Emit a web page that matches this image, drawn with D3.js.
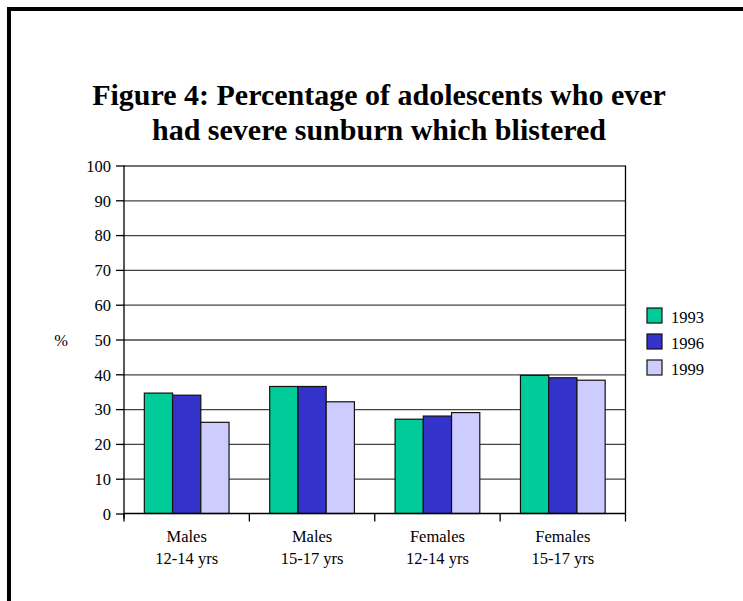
<!DOCTYPE html>
<html>
<head>
<meta charset="utf-8">
<script src="https://cdn.jsdelivr.net/npm/d3@7"></script>
<style>
  html, body { margin: 0; padding: 0; background: #fff; }
  svg { display: block; }
  svg text { font-family: "Liberation Serif", "Times New Roman", serif; fill: #000; }
</style>
</head>
<body>
<svg id="chart" width="743" height="601"></svg>
<script>
// Survey data: share of adolescents reporting a blistering sunburn
const categories = [["Males", "12-14 yrs"], ["Males", "15-17 yrs"], ["Females", "12-14 yrs"], ["Females", "15-17 yrs"]];
const years = ["1993", "1996", "1999"];
const values1993 = [34.6, 36.5, 27.1, 39.7];
const values1996 = [34.0, 36.5, 28.0, 39.0];
const values1999 = [26.2, 32.1, 29.0, 38.3];
const yTicks = [0, 10, 20, 30, 40, 50, 60, 70, 80, 90, 100];
const colors = ["#00CC99", "#3333CC", "#CCCCFF"];
const titleLines = ["Figure 4: Percentage of adolescents who ever", "had severe sunburn which blistered"];

const series = [values1993, values1996, values1999];
const rows = categories.map((c, i) => ({
  key: c.join(" "),
  label: c,
  vals: years.map((yr, j) => ({ year: yr, value: series[j][i], color: colors[j] }))
}));

const smallFont = 16.5;
const svg = d3.select("#chart");

// Outer frame (runs off the right and bottom edges)
svg.append("rect")
  .attr("x", 9).attr("y", 9)
  .attr("width", 760).attr("height", 620)
  .attr("fill", "none").attr("stroke", "#000").attr("stroke-width", 4);

// Title
svg.append("g").selectAll("text")
  .data(titleLines).join("text")
  .attr("x", 379).attr("y", (d, i) => 105 + i * 35)
  .attr("text-anchor", "middle")
  .style("font-size", "30px").style("font-weight", "bold")
  .text(d => d);

const plotLeft = 124, plotRight = 625.5, plotTop = 165.5, plotBottom = 513.5;

const y = d3.scaleLinear().domain([0, 100]).range([plotBottom, plotTop]);
const x0 = d3.scaleBand().domain(rows.map(r => r.key)).range([plotLeft, plotRight]).padding(0);
const x1 = d3.scaleBand().domain(years).range([0, x0.bandwidth()]).paddingInner(0).paddingOuter(0.72);

// Horizontal gridlines
svg.append("g")
  .attr("transform", `translate(${plotLeft},0)`)
  .call(d3.axisLeft(y).tickValues(yTicks.slice(1)).tickSize(-(plotRight - plotLeft)).tickFormat(""))
  .call(g => g.select(".domain").remove())
  .call(g => g.selectAll("line").attr("stroke", "#444").attr("stroke-width", 1.3));

// Right border of plot
svg.append("line")
  .attr("x1", plotRight).attr("x2", plotRight).attr("y1", plotTop).attr("y2", plotBottom)
  .attr("stroke", "#000").attr("stroke-width", 1.3);

// Bars
svg.append("g").selectAll("g")
  .data(rows).join("g")
  .attr("transform", d => `translate(${x0(d.key)},0)`)
  .selectAll("rect")
  .data(d => d.vals).join("rect")
  .attr("x", d => x1(d.year))
  .attr("y", d => y(d.value))
  .attr("width", x1.bandwidth())
  .attr("height", d => y(0) - y(d.value))
  .attr("fill", d => d.color)
  .attr("stroke", "#111").attr("stroke-width", 1.2);

// Y axis
const yAxis = svg.append("g")
  .attr("transform", `translate(${plotLeft},0)`)
  .call(d3.axisLeft(y).tickValues(yTicks).tickSize(8).tickPadding(5))
  .call(g => g.select(".domain").attr("d", `M0,${plotTop}V${plotBottom + 5}`).attr("stroke", "#000").attr("stroke-width", 1.3));
yAxis.selectAll("text").style("font-size", smallFont + "px").attr("dy", "0.35em");
yAxis.selectAll("line").attr("stroke", "#000").attr("stroke-width", 1.3);

// Y axis caption
svg.append("text")
  .attr("x", 61).attr("y", 346)
  .attr("text-anchor", "middle").style("font-size", smallFont + "px")
  .text("%");

// X axis baseline and category boundary ticks
svg.append("line")
  .attr("x1", plotLeft).attr("x2", plotRight).attr("y1", plotBottom).attr("y2", plotBottom)
  .attr("stroke", "#000").attr("stroke-width", 1.3);
const bounds = rows.map(r => x0(r.key)).concat([plotRight]);
svg.append("g").selectAll("line")
  .data(bounds).join("line")
  .attr("x1", d => d).attr("x2", d => d)
  .attr("y1", plotBottom).attr("y2", plotBottom + 8)
  .attr("stroke", "#000").attr("stroke-width", 1.3);

// Category labels
const cat = svg.append("g").selectAll("text")
  .data(rows).join("text")
  .attr("text-anchor", "middle").style("font-size", smallFont + "px");
cat.append("tspan").attr("y", 542).attr("x", d => x0(d.key) + x0.bandwidth() / 2).text(d => d.label[0]);
cat.append("tspan").attr("y", 564).attr("x", d => x0(d.key) + x0.bandwidth() / 2).text(d => d.label[1]);

// Legend
const legend = svg.append("g").selectAll("g")
  .data(years).join("g")
  .attr("transform", (d, i) => `translate(647,${308 + i * 26})`);
legend.append("rect")
  .attr("width", 15).attr("height", 15)
  .attr("fill", (d, i) => colors[i])
  .attr("stroke", "#111").attr("stroke-width", 1.2);
legend.append("text")
  .attr("x", 24).attr("y", 15)
  .style("font-size", smallFont + "px")
  .text(d => d);
</script>
</body>
</html>
